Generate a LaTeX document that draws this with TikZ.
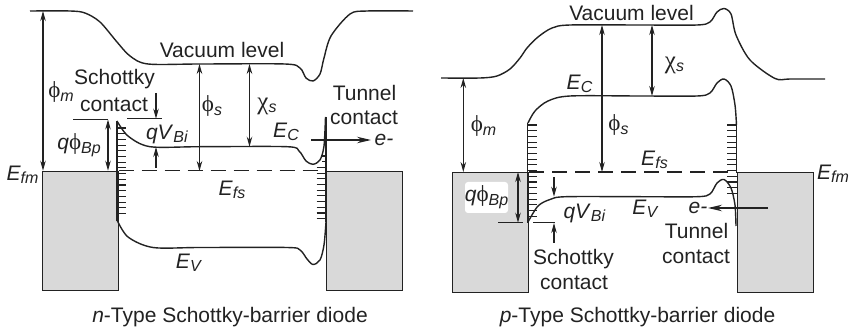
\documentclass[tikz,border=0pt]{standalone}
\usepackage{fontspec}
\setmainfont{Liberation Sans}
\newfontfamily\grk{Liberation Serif}
\usetikzlibrary{arrows.meta}
\definecolor{ink}{HTML}{222222}
\definecolor{metal}{HTML}{D9D9D9}
\newcommand{\sbs}[1]{\raisebox{-0.32ex}{\fontsize{16}{16}\selectfont\textit{#1}}}
\newcommand{\fe}{\textit{E}}
\newcommand{\fphi}{{\fontsize{23}{23}\selectfont\grk ϕ}}
\newcommand{\fchi}{{\fontsize{25}{25}\selectfont\grk χ}}
\tikzset{
  band/.style={draw=ink,line width=1.4pt,smooth,tension=0.5},
  lvl/.style={draw=ink,line width=1.35pt},
  fermi/.style={draw=ink,line width=1.2pt,dash pattern=on 15pt off 8pt},
  hatchline/.style={draw=ink,line width=1.1pt},
  dim/.style={draw=ink,line width=1.1pt,{Stealth[length=10pt,width=5.5pt]}-{Stealth[length=10pt,width=5.5pt]}},
  one/.style={draw=ink,line width=1.1pt,-{Stealth[length=10pt,width=5.5pt]}},
  flow/.style={draw=ink,line width=1.2pt,-{Stealth[length=14pt,width=6.5pt]}},
  metalbox/.style={draw=ink,fill=metal,line width=1.2pt,inner sep=0pt,minimum width=76pt,minimum height=119.5pt,anchor=north west},
  txt/.style={text=ink,inner sep=0pt,font=\fontsize{21}{23}\selectfont},
}
\begin{document}
\begin{tikzpicture}[x=1pt,y=-1pt]
\useasboundingbox (0,0) rectangle (849,331);
% ---------- left diagram ----------
\node[metalbox] (ml) at (41.5,170.7) {};
\node[metalbox] (mr) at (326,170.7) {};
\foreach \yy in {128,133.7,...,219}{\draw[hatchline] (117,\yy) -- (126,\yy);}
\foreach \yy in {156,161.7}{\draw[hatchline] (322,\yy) -- (326,\yy);}
\foreach \yy in {167.4,173.1,...,220}{\draw[hatchline] (316.5,\yy) -- (326,\yy);}
\draw[hatchline] (117,121) -- (117,221);
\draw[hatchline] (326,117) -- (326,222);
\coordinate (fsl) at (ml.north east);
\coordinate (fsr) at (mr.north west);
\draw[fermi] (fsl) -- (fsr);
\draw[band] plot coordinates {(30,11) (70,11) (85,13) (100,22) (117,42) (130,56) (148,64) (200,64) (285,64) (300,68) (306,78) (313,81) (320,74) (324,58) (331,36) (350,14) (367,11) (413,11)};
\draw[band] plot coordinates {(117,121) (128,136) (150,146.7) (200,146.7) (287,146.7) (299,151) (306,161) (313,164.3) (320,160) (324,146) (325.5,117)};
\draw[band] plot coordinates {(117,220) (128,237) (153,247.5) (200,247.5) (287,247.5) (300,250) (307,259) (313,264.5) (320,260) (324,245) (326,222)};
\coordinate (sl1) at (73,119.5); \coordinate (sl2) at (108,119.5);
\draw[lvl] (sl1) -- (sl2);
\coordinate (vb1) at (127,118.7); \coordinate (vb2) at (162,118.7);
\draw[lvl] (vb1) -- (vb2);
\coordinate (pm1) at (43,11); \coordinate (pm2) at (43,170.7);
\draw[dim] (pm1) -- (pm2);
\coordinate (ps1) at (199.5,64); \coordinate (ps2) at (199.5,171);
\draw[dim] (ps1) -- (ps2);
\coordinate (ch1) at (249.5,64); \coordinate (ch2) at (249.5,146.7);
\draw[dim] (ch1) -- (ch2);
\coordinate (qb1) at (108,119.5); \coordinate (qb2) at (108,170.7);
\draw[dim] (qb1) -- (qb2);
\coordinate (vd1) at (156,93); \coordinate (vd2) at (156,118.7);
\draw[one] (vd1) -- (vd2);
\coordinate (vu1) at (156,168); \coordinate (vu2) at (156,147);
\draw[one] (vu1) -- (vu2);
\coordinate (tn1) at (311,140); \coordinate (tn2) at (371,140);
\draw[flow] (tn1) -- (tn2);
\node[txt] (a1) at (222,50) {Vacuum level};
\node[txt] (a2) at (61,92) {\fphi\sbs{m}};
\node[txt] (a3) at (114.5,79) {Schottky};
\node[txt] (a4) at (114,105) {contact};
\node[txt] (a5) at (79,145) {\textit{q}\fphi\sbs{Bp}};
\node[txt] (a6) at (167,134) {\textit{qV}\sbs{Bi}};
\node[txt] (a7) at (212,106) {\fphi\sbs{s}};
\node[txt] (a8) at (267,106) {\fchi\sbs{s}};
\node[txt] (a9) at (286,132) {\fe\sbs{C}};
\node[txt] (a10) at (364.5,93) {Tunnel};
\node[txt] (a11) at (364,118) {contact};
\node[txt] (a12) at (384,140) {\textit{e-}};
\node[txt] (a13) at (22.5,175) {\fe\sbs{fm}};
\node[txt] (a14) at (232,190) {\fe\sbs{fs}};
\node[txt] (a15) at (189,263) {\fe\sbs{V}};
\node[txt] (a16) at (230,317) {\textit{n}-Type Schottky-barrier diode};
% ---------- right diagram ----------
\node[metalbox] (pl) at (452,172) {};
\node[metalbox] (pr) at (736.5,172) {};
\node[fill=white,rounded corners=3pt,minimum width=43pt,minimum height=31pt,inner sep=0pt] (wb) at (486.5,197.5) {};
\foreach \yy in {125,130.7,...,221}{\draw[hatchline] (527.5,\yy) -- (537,\yy);}
\foreach \yy in {125,130.7,...,196}{\draw[hatchline] (727,\yy) -- (736.5,\yy);}
\draw[hatchline] (527.5,123) -- (527.5,223);
\draw[hatchline] (736.5,125) -- (736.5,172);
\coordinate (gsl) at (pl.north east);
\coordinate (gsr) at (pr.north west);
\draw[fermi] (gsl) -- (gsr);
\draw[band] plot coordinates {(441,78) (480,78) (497,76) (510,69) (520,58) (527,48) (538,37) (552,28) (570,25) (640,25) (697,25) (710,22) (717,12) (724,8.5) (731,14) (736,35) (750,60) (775,78.5) (790,79) (825,79)};
\draw[band] plot coordinates {(528,123) (535,111) (548,101) (570,96) (640,96) (697,96) (710,93) (717,83) (724,79) (731,86) (735,105) (736.5,125)};
\draw[band] plot coordinates {(528,222) (538,206) (550,199.5) (566,196.7) (640,196.7) (697,196.7) (710,194) (717,183) (724,179.5) (731,188) (735,205) (736,226)};
\coordinate (pb1) at (498,222.7); \coordinate (pb2) at (523,222.7);
\draw[lvl] (pb1) -- (pb2);
\coordinate (pv1) at (533,222.7); \coordinate (pv2) at (555,222.7);
\draw[lvl] (pv1) -- (pv2);
\coordinate (rm1) at (463.3,78); \coordinate (rm2) at (463.3,172);
\draw[dim] (rm1) -- (rm2);
\coordinate (rs1) at (602,25); \coordinate (rs2) at (602,172);
\draw[dim] (rs1) -- (rs2);
\coordinate (rc1) at (652,25); \coordinate (rc2) at (652,96);
\draw[dim] (rc1) -- (rc2);
\coordinate (rq1) at (518,172); \coordinate (rq2) at (518,222.7);
\draw[dim] (rq1) -- (rq2);
\coordinate (rd1) at (554,177); \coordinate (rd2) at (554,196.7);
\draw[one] (rd1) -- (rd2);
\coordinate (ru1) at (554,243); \coordinate (ru2) at (554,223);
\draw[one] (ru1) -- (ru2);
\coordinate (rt1) at (768,208); \coordinate (rt2) at (708,208);
\draw[flow] (rt1) -- (rt2);
\node[txt] (b1) at (631.5,13) {Vacuum level};
\node[txt] (b2) at (483.5,126) {\fphi\sbs{m}};
\node[txt] (b3) at (618.5,125) {\fphi\sbs{s}};
\node[txt] (b4) at (674.5,65) {\fchi\sbs{s}};
\node[txt] (b5) at (579.5,84) {\fe\sbs{C}};
\node[txt] (b6) at (654.5,160) {\fe\sbs{fs}};
\node[txt] (b7) at (833,174) {\fe\sbs{fm}};
\node[txt] (b8) at (486.5,197) {\textit{q}\fphi\sbs{Bp}};
\node[txt] (b9) at (584.5,213) {\textit{qV}\sbs{Bi}};
\node[txt] (b10) at (645.5,209) {\fe\sbs{V}};
\node[txt] (b11) at (698,208) {\textit{e-}};
\node[txt] (b12) at (696.5,231) {Tunnel};
\node[txt] (b13) at (696,257) {contact};
\node[txt] (b14) at (573.5,259) {Schottky};
\node[txt] (b15) at (574,283) {contact};
\node[txt] (b16) at (637.5,317) {\textit{p}-Type Schottky-barrier diode};
\end{tikzpicture}
\end{document}
